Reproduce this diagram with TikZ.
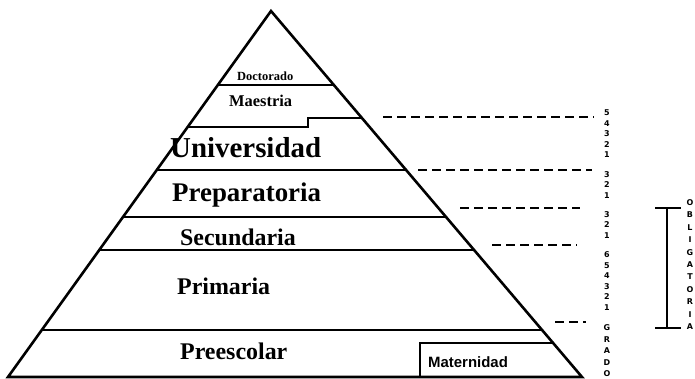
\documentclass[tikz,border=0pt]{standalone}
\usepackage{fontspec}
\setmainfont{Liberation Serif}
\newfontfamily\sansb{Liberation Sans}
\newfontfamily\heavy{DejaVu Sans}
\begin{document}
\begin{tikzpicture}[x=1bp,y=-1bp,
  edge/.style={line width=2.6bp,line join=miter},
  level/.style={line width=1.6bp},
  dashline/.style={line width=1.8bp,dash pattern=on 9bp off 5bp},
  lab/.style={anchor=base west,inner sep=0pt,font=\bfseries\fontsize{24}{24}\selectfont},
  col/.style={align=center,inner sep=0pt,font=\heavy\bfseries\fontsize{8}{10.5}\selectfont}]
\useasboundingbox (0,0) rectangle (695,378);
% pyramid
\coordinate (apex) at (271,11);
\coordinate (bl) at (8,377);
\coordinate (br) at (582,377);
\draw[edge] (bl) -- (apex) -- (br) -- cycle;
% levels
\draw[level] (217.8,85) -- (333.9,85);
\draw[level] (187.6,127) -- (308,127) -- (308,118) -- (361.9,118);
\draw[level] (156.7,170) -- (406.1,170);
\draw[level] (123.0,217) -- (446.0,217);
\draw[level] (99.3,250) -- (474.1,250);
\draw[level] (41.8,330) -- (542.1,330);
\draw[level] (420,377) -- (420,343) -- (553.1,343);
% texts
\node[lab,font=\bfseries\fontsize{12.5}{12.5}\selectfont] (doc) at (237,80) {Doctorado};
\node[lab,font=\bfseries\fontsize{16.5}{16.5}\selectfont] (mae) at (229,106) {Maestria};
\node[lab,font=\bfseries\fontsize{29}{29}\selectfont] (uni) at (170,157) {Universidad};
\node[lab,font=\bfseries\fontsize{27}{27}\selectfont] (pre) at (172,201) {Preparatoria};
\node[lab] (sec) at (180,245) {Secundaria};
\node[lab] (pri) at (177,294) {Primaria};
\node[lab] (pes) at (180,359) {Preescolar};
\node[anchor=base west,inner sep=0pt,font=\sansb\bfseries\fontsize{15}{15}\selectfont] (mat) at (428,367) {Maternidad};
% dashed lines
\coordinate (d1a) at (383,117); \coordinate (d1b) at (594,117);
\coordinate (d2a) at (418,170); \coordinate (d2b) at (592,170);
\coordinate (d3a) at (460,208); \coordinate (d3b) at (580,208);
\coordinate (d4a) at (492,245); \coordinate (d4b) at (577,245);
\coordinate (d5a) at (555,322); \coordinate (d5b) at (586,322);
\draw[dashline] (d1a) -- (d1b);
\draw[dashline] (d2a) -- (d2b);
\draw[dashline] (d3a) -- (d3b);
\draw[dashline] (d4a) -- (d4b);
\draw[dashline] (d5a) -- (d5b);
% year columns
\node[col] (g1) at (607,134) {5\\4\\3\\2\\1};
\node[col] (g2) at (607,185) {3\\2\\1};
\node[col] (g3) at (607,225) {3\\2\\1};
\node[col] (g4) at (607,281) {6\\5\\4\\3\\2\\1};
\node[col,font=\heavy\bfseries\fontsize{8}{11.5}\selectfont] (grado) at (607,351) {G\\R\\A\\D\\O};
% obligatoria bracket
\coordinate (bt) at (667,208);
\coordinate (bb) at (667,328);
\draw[line width=2.2bp] (bt) -- (bb);
\draw[line width=2.2bp] (655,208) -- (681,208);
\draw[line width=2.2bp] (655,328) -- (681,328);
\node[col,font=\heavy\bfseries\fontsize{8}{12.5}\selectfont] (obl) at (690,264.5) {O\\B\\L\\I\\G\\A\\T\\O\\R\\I\\A};
\end{tikzpicture}
\end{document}
